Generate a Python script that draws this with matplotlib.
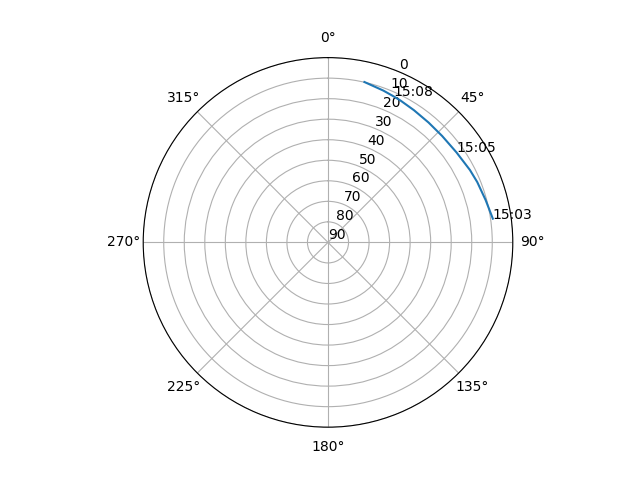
import numpy as np
import matplotlib
matplotlib.use('Agg')
import matplotlib.pyplot as plt

# pass track (azimuth deg, elevation deg)
azimuth = [81.8, 75, 68, 63, 55, 47, 40, 33, 27, 24, 20, 12.8]
elevation = [8.9, 10.5, 11.6, 12.4, 13.6, 14.0, 13.8, 13.2, 12.4, 12.0, 11.3, 9.9]

# time labels along the track
label_times = ['15:03', '15:05', '15:08']
label_az = [81.8, 54.8, 24.0]
label_el = [8.9, 13.7, 12.1]

fig = plt.figure(figsize=(6.4, 4.8), dpi=100)
ax = fig.add_subplot(111, projection='polar')
ax.set_theta_zero_location('N')
ax.set_theta_direction(-1)

ax.plot(np.radians(azimuth), elevation)
for t, a, e in zip(label_times, label_az, label_el):
    ax.text(np.radians(a), e, t)

ax.set_rlim(90, 0)
ax.set_yticks(range(0, 91, 10))
ax.grid(True)

fig.savefig('out.png', dpi=100)
